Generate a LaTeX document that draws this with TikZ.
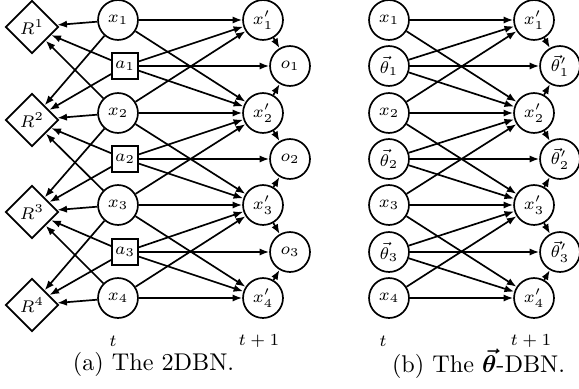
\documentclass[tikz,border=0pt]{standalone}
\usepackage{amsmath,amssymb,bm}
\usetikzlibrary{arrows.meta,shapes.geometric}
\tikzset{
  var/.style={circle, draw, line width=0.7pt, minimum size=16.5pt, inner sep=0pt},
  act/.style={rectangle, draw, line width=0.7pt, minimum size=10.8pt, inner sep=0pt},
  rew/.style={diamond, draw, line width=0.7pt, minimum size=21.9pt, inner sep=0pt},
  arr/.style={line width=0.7pt, -{Latex[length=4pt,width=3pt]}},
  lbl/.style={inner sep=0.5pt},
  subcap/.style={inner sep=0.5pt, font=\fontsize{10}{12}\selectfont}
}

\begin{document}
\begin{tikzpicture}[x=0.4132pt, y=-0.4132pt, font=\fontsize{7}{8.5}\selectfont]
\useasboundingbox (0,0) rectangle (579,388);
% (a) the 2DBN
\node[rew] (R1) at (32,27) {$R^1$};
\node[rew] (R2) at (32,120) {$R^2$};
\node[rew] (R3) at (32,212) {$R^3$};
\node[rew] (R4) at (32,305) {$R^4$};
\node[var] (x1) at (118,20) {$x_1$};
\node[act] (a1) at (125,66) {$a_1$};
\node[var] (x2) at (118,113) {$x_2$};
\node[act] (a2) at (125,159) {$a_2$};
\node[var] (x3) at (118,205) {$x_3$};
\node[act] (a3) at (125,252) {$a_3$};
\node[var] (x4) at (118,298) {$x_4$};
\node[var] (xp1) at (263,20) {$x'_1$};
\node[var] (o1) at (290,66) {$o_1$};
\node[var] (xp2) at (263,113) {$x'_2$};
\node[var] (o2) at (290,159) {$o_2$};
\node[var] (xp3) at (263,205) {$x'_3$};
\node[var] (o3) at (290,252) {$o_3$};
\node[var] (xp4) at (263,298) {$x'_4$};
\draw[arr] (x1) edge (R1) edge (R2) edge (xp1) edge (xp2);
\draw[arr] (a1) edge (R1) edge (R2) edge (xp1) edge (xp2) edge (o1);
\draw[arr] (x2) edge (R1) edge (R2) edge (R3) edge (xp1) edge (xp2) edge (xp3);
\draw[arr] (a2) edge (R2) edge (R3) edge (xp2) edge (xp3) edge (o2);
\draw[arr] (x3) edge (R2) edge (R3) edge (R4) edge (xp2) edge (xp3) edge (xp4);
\draw[arr] (a3) edge (R3) edge (R4) edge (xp3) edge (xp4) edge (o3);
\draw[arr] (x4) edge (R3) edge (R4) edge (xp3) edge (xp4);
\draw[arr] (xp1) edge (o1) (xp2) edge (o1) edge (o2);
\draw[arr] (xp3) edge (o2) edge (o3) (xp4) edge (o3);
\node[lbl] (ta) at (113,341) {$t$};
\node[lbl] (tpa) at (259,341) {$t+1$};
\node[subcap] (capa) at (153.5,364) {(a) The 2DBN.};
% (b) the theta-DBN
\node[var] (bx1) at (389,20) {$x_1$};
\node[var] (bt1) at (389,66) {$\vec{\theta}_1$};
\node[var] (bx2) at (389,113) {$x_2$};
\node[var] (bt2) at (389,159) {$\vec{\theta}_2$};
\node[var] (bx3) at (389,205) {$x_3$};
\node[var] (bt3) at (389,252) {$\vec{\theta}_3$};
\node[var] (bx4) at (389,298) {$x_4$};
\node[var] (bxp1) at (534,20) {$x'_1$};
\node[var] (btp1) at (560,66) {$\vec{\theta}'_1$};
\node[var] (bxp2) at (534,113) {$x'_2$};
\node[var] (btp2) at (560,159) {$\vec{\theta}'_2$};
\node[var] (bxp3) at (534,205) {$x'_3$};
\node[var] (btp3) at (560,252) {$\vec{\theta}'_3$};
\node[var] (bxp4) at (534,298) {$x'_4$};
\draw[arr] (bx1) edge (bxp1) edge (bxp2);
\draw[arr] (bt1) edge (bxp1) edge (btp1) edge (bxp2);
\draw[arr] (bx2) edge (bxp1) edge (bxp2) edge (bxp3);
\draw[arr] (bt2) edge (bxp2) edge (btp2) edge (bxp3);
\draw[arr] (bx3) edge (bxp2) edge (bxp3) edge (bxp4);
\draw[arr] (bt3) edge (bxp3) edge (btp3) edge (bxp4);
\draw[arr] (bx4) edge (bxp3) edge (bxp4);
\draw[arr] (bxp1) edge (btp1) (bxp2) edge (btp1) edge (btp2);
\draw[arr] (bxp3) edge (btp2) edge (btp3) (bxp4) edge (btp3);
\node[lbl] (tb) at (383,341) {$t$};
\node[lbl] (tpb) at (531,341) {$t+1$};
\node[subcap] (capb) at (478.5,364) {(b) The $\bm{\vec{\theta}}$-DBN.};
\end{tikzpicture}
\end{document}
